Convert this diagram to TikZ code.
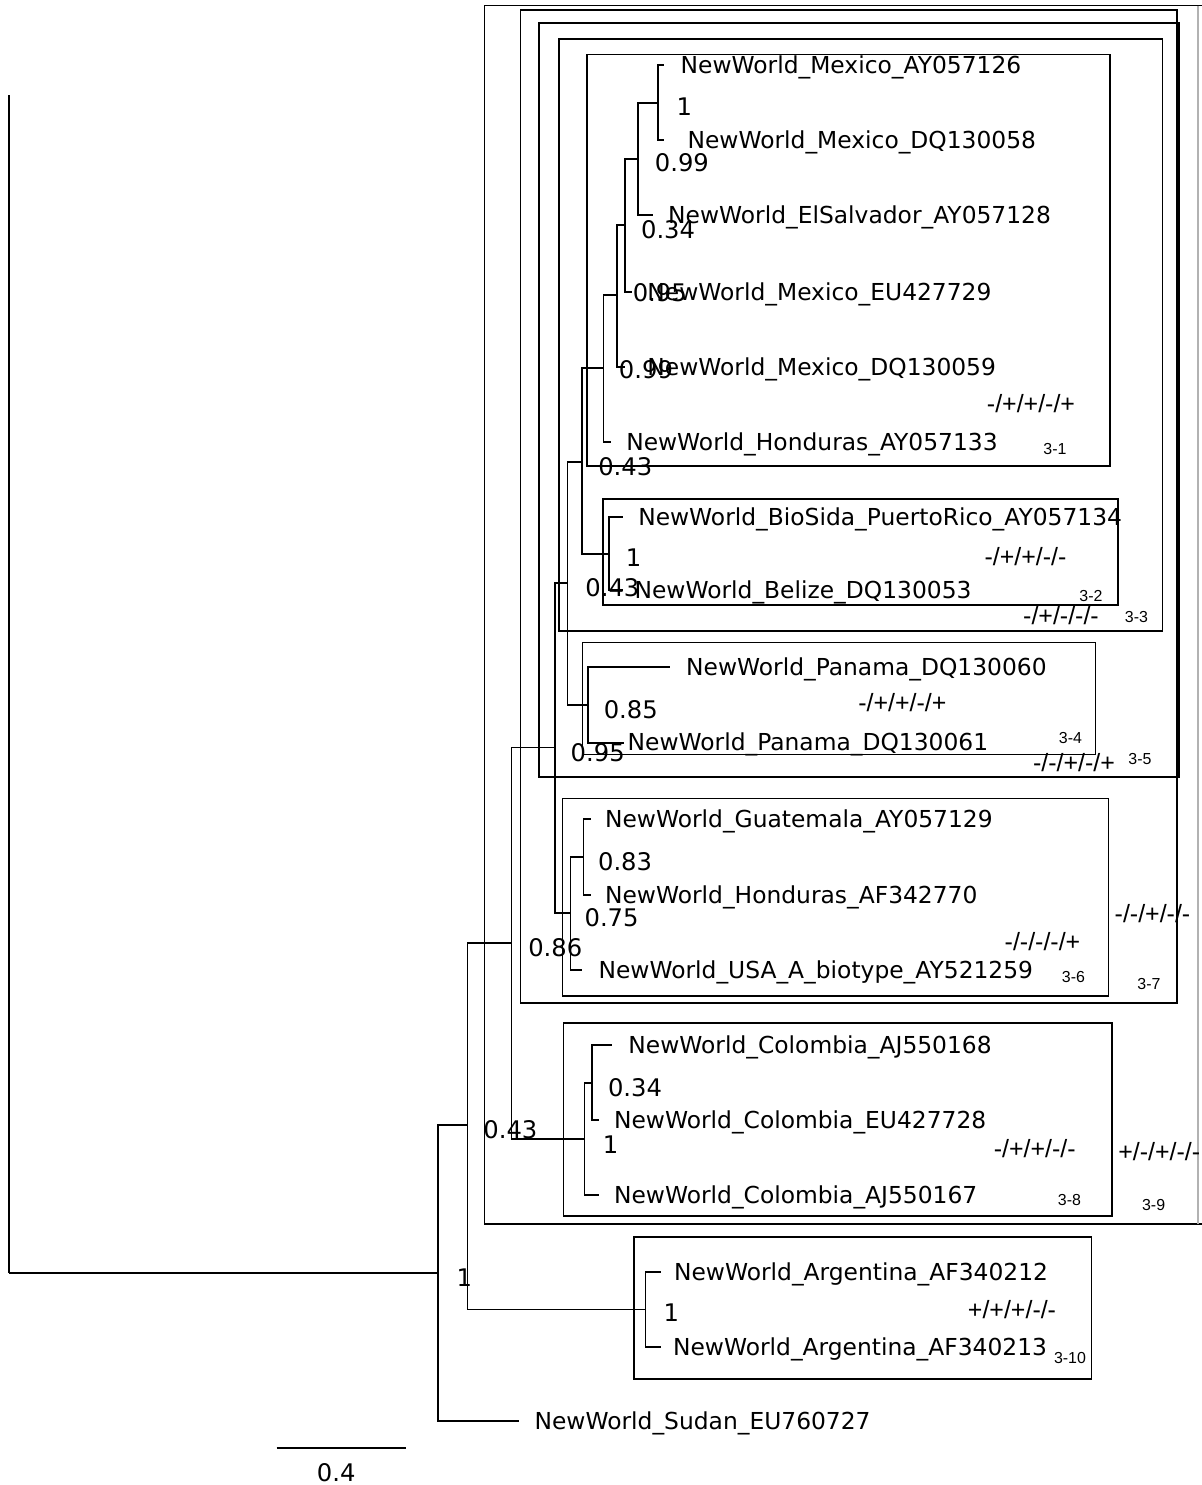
\documentclass[tikz,border=0pt]{standalone}
\usepackage{fontspec}
\newfontfamily\treefont{DejaVu Sans}
\newfontfamily\sitefont{Liberation Sans}
\tikzset{
	branch/.style={line width=0.9pt},
	groupbox/.style={line width=1.1pt},
	taxon/.style={anchor=base west,inner sep=0pt,xshift=-1.3pt,yshift=-4.8pt,font=\treefont\fontsize{13.3pt}{15pt}\selectfont},
	support/.style={anchor=base west,inner sep=0pt,xshift=-1pt,yshift=-5pt,font=\treefont\fontsize{13.8pt}{16pt}\selectfont},
	sites/.style={anchor=base,inner sep=0pt,yshift=-4.5pt,font=\sitefont\fontsize{14.2pt}{16pt}\selectfont},
	grouptag/.style={anchor=base,inner sep=0pt,yshift=-3.25pt,font=\sitefont\fontsize{9.07pt}{11pt}\selectfont},
}

\begin{document}
\begin{tikzpicture}[x=0.02cm,y=-0.02cm]
	\useasboundingbox (0,0) rectangle (1202,1485);
	\foreach \xa/\ya/\xb/\yb in {520.5/10/1176.7/1003, 539/22.7/1179/777, 559.3/39.3/1162.5/631, 586.8/54.5/1110/466, 603.4/499/1117.7/605, 582.5/642.5/1095.5/754.5, 562.5/798.5/1108.5/996, 563.5/1022.7/1112/1216, 634/1237/1091.5/1379} {
		\draw[groupbox] (\xa,\ya) rectangle (\xb,\yb);
	}
	\draw[groupbox] (1202,5.5) -- (484.5,5.5) -- (484.5,1224) -- (1202,1224);
	\draw[groupbox,black!30] (1198,5.5) -- (1198,1224);

	\coordinate (root) at (9,1273);
	\coordinate (rtop) at (9,95);
	\foreach \n/\x/\y in {nA/438/1273, nB/467.5/1125, nC/511.5/943, nD/555/747.5, nE/567.5/583, nG/582.2/462, nH/603.4/368, nI/617.2/295, nJ/625/225, nK/637.9/159, nL/658.2/103, nBS/608.9/554, nPan/588.2/705, nF/570.5/913, nGua/583.5/857, nCol/584.5/1139, nColi/592/1083, nArg/645.7/1309.5} {
		\coordinate (\n) at (\x,\y);
	}
	\foreach \x/\y [count=\i] in {664.2/65, 664.2/140, 652.6/215, 632/292, 625/367, 611.2/442, 622.7/517, 622.7/590, 669.7/667, 624/743, 590.5/819, 590.5/895, 582/970, 612/1045, 598.5/1120, 598.5/1195, 661/1272, 661/1347, 519/1421} {
		\coordinate (tip\i) at (\x,\y);
	}
	\foreach \p/\c in {root/rtop, root/nA, nA/nB, nA/tip19, nB/nC, nB/nArg, nC/nD, nC/nCol, nD/nE, nD/nF, nE/nG, nE/nPan, nG/nH, nG/nBS, nH/nI, nH/tip6, nI/nJ, nI/tip5, nJ/nK, nJ/tip4, nK/nL, nK/tip3, nL/tip1, nL/tip2, nBS/tip7, nBS/tip8, nPan/tip9, nPan/tip10, nF/nGua, nF/tip13, nGua/tip11, nGua/tip12, nCol/nColi, nCol/tip16, nColi/tip14, nColi/tip15, nArg/tip17, nArg/tip18} {
		\draw[branch] (\p) |- (\c);
	}

	\foreach \x/\y/\lbl [count=\i] in {682.6/65/NewWorld\_Mexico\_AY057126, 689.5/140/NewWorld\_Mexico\_DQ130058, 670.1/215/NewWorld\_ElSalvador\_AY057128, 649.4/292/NewWorld\_Mexico\_EU427729, 649.4/367/NewWorld\_Mexico\_DQ130059, 628.2/442/NewWorld\_Honduras\_AY057133, 640.2/517/NewWorld\_BioSida\_PuertoRico\_AY057134, 636.5/590/NewWorld\_Belize\_DQ130053, 688.1/667/NewWorld\_Panama\_DQ130060, 629.6/742/NewWorld\_Panama\_DQ130061, 607/819/NewWorld\_Guatemala\_AY057129, 607/895/NewWorld\_Honduras\_AF342770, 600.5/970/NewWorld\_USA\_A\_biotype\_AY521259, 630.4/1045/NewWorld\_Colombia\_AJ550168, 616/1120/NewWorld\_Colombia\_EU427728, 616/1195/NewWorld\_Colombia\_AJ550167, 676/1272/NewWorld\_Argentina\_AF340212, 675/1347/NewWorld\_Argentina\_AF340213, 536.5/1421/NewWorld\_Sudan\_EU760727} {
		\node[taxon] (taxon\i) at (\x,\y) {\lbl};
	}
	\foreach \x/\y/\v [count=\i] in {678/107/1, 656.3/163/0.99, 642.5/230/0.34, 634.2/293/0.95, 620.4/370/0.99, 599.7/467/0.43, 627.3/558/1, 586.8/588/0.43, 605.2/710/0.85, 572.1/753/0.95, 599.5/862/0.83, 586/918/0.75, 529.7/948/0.86, 609.4/1088/0.34, 604.4/1145/1, 484.8/1130/0.43, 458/1278/1, 665/1313/1} {
		\node[support] (supp\i) at (\x,\y) {\v};
	}

	\node[sites] (sites1) at (1031,405) {-/+/+/-/+};
	\node[grouptag] (tag1) at (1055,449) {3-1};
	\node[sites] (sites2) at (1025.5,558) {-/+/+/-/-};
	\node[grouptag] (tag2) at (1091,596) {3-2};
	\node[sites] (sites3) at (1061,617) {-/+/-/-/-};
	\node[grouptag] (tag3) at (1136.5,617) {3-3};
	\node[sites] (sites4) at (902.4,704) {-/+/+/-/+};
	\node[grouptag] (tag4) at (1070.4,738) {3-4};
	\node[sites] (sites5) at (1074,764) {-/-/+/-/+};
	\node[grouptag] (tag5) at (1140,759) {3-5};
	\node[sites] (sites6) at (1042.5,943) {-/-/-/-/+};
	\node[grouptag] (tag6) at (1073.4,977) {3-6};
	\node[sites] (sites7) at (1152.5,915) {-/-/+/-/-};
	\node[grouptag] (tag7) at (1149,984) {3-7};
	\node[sites] (sites8) at (1034.7,1150) {-/+/+/-/-};
	\node[grouptag] (tag8) at (1069.5,1200) {3-8};
	\node[sites,anchor=base west] (sites9) at (1118,1153) {+/-/+/-/-};
	\node[grouptag] (tag9) at (1153.6,1205) {3-9};
	\node[sites] (sites10) at (1012,1311) {+/+/+/-/-};
	\node[grouptag] (tag10) at (1070,1358) {3-10};

	\coordinate (bar0) at (276.7,1448);
	\coordinate (bar1) at (405.8,1448);
	\draw[branch] (bar0) -- (bar1);
	\node[support,anchor=base] (barlabel) at (338,1473) {0.4};
\end{tikzpicture}
\end{document}
